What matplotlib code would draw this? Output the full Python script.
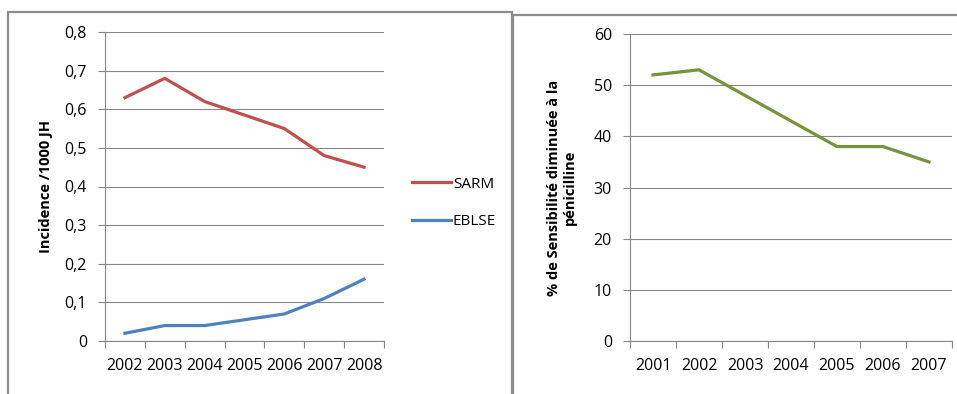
import matplotlib.pyplot as plt
import numpy as np
from matplotlib.patches import Rectangle

plt.rcParams['font.family'] = ['Open Sans', 'DejaVu Sans']

# données
annees_g = ['2002', '2003', '2004', '2005', '2006', '2007', '2008']
sarm = [0.63, 0.68, 0.62, 0.585, 0.55, 0.48, 0.45]
eblse = [0.02, 0.04, 0.04, 0.055, 0.07, 0.11, 0.16]
yticks_g = [0, 0.1, 0.2, 0.3, 0.4, 0.5, 0.6, 0.7, 0.8]

annees_d = ['2001', '2002', '2003', '2004', '2005', '2006', '2007']
penicilline = [52, 53, 48, 43, 38, 38, 35]
yticks_d = [0, 10, 20, 30, 40, 50, 60]

gris = '#868686'
fig = plt.figure(figsize=(9.57, 3.94), dpi=100)

# cadres des deux graphiques
fig.patches.append(Rectangle((8 / 957, -0.05), 504 / 957, 1.05 - 12 / 394, transform=fig.transFigure,
                             fill=False, edgecolor='#8c8c8c', linewidth=1.6))
fig.patches.append(Rectangle((513 / 957, -0.05), 0.5, 1.05 - 15 / 394, transform=fig.transFigure,
                             fill=False, edgecolor='#8c8c8c', linewidth=1.6))


def style_axe(ax, labels, yticks, fmt, xfs):
    n = len(labels)
    ax.set_xlim(0, n)
    ax.set_xticks(np.arange(n + 1))
    ax.set_xticklabels([])
    ax.set_xticks(np.arange(n) + 0.5, minor=True)
    ax.set_xticklabels(labels, minor=True, fontsize=xfs)
    ax.tick_params(axis='x', which='major', length=5, color=gris, direction='out')
    ax.tick_params(axis='x', which='minor', length=0, pad=12)
    ax.set_yticks(yticks)
    ax.set_yticklabels([fmt(v) for v in yticks], fontsize=11.5)
    ax.set_ylim(yticks[0], yticks[-1])
    ax.tick_params(axis='y', length=5, color=gris, pad=8)
    ax.yaxis.grid(True, color=gris, linewidth=0.8)
    ax.set_axisbelow(True)
    for s in ['top', 'right']:
        ax.spines[s].set_visible(False)
    for s in ['left', 'bottom']:
        ax.spines[s].set_color(gris)
        ax.spines[s].set_linewidth(0.8)


# graphique de gauche
ax1 = fig.add_axes([105 / 957, 1 - 341 / 394, 279 / 957, 309 / 394])
x1 = np.arange(len(annees_g)) + 0.5
ax1.plot(x1, sarm, color='#C0504D', linewidth=2.3, label='SARM')
ax1.plot(x1, eblse, color='#4F81BD', linewidth=2.3, label='EBLSE')
style_axe(ax1, annees_g, yticks_g, lambda v: ('%g' % v).replace('.', ','), 11.5)
ax1.set_ylabel('Incidence /1000 JH', fontsize=10.5, fontweight='bold', labelpad=8)
ax1.legend(loc='center left', bbox_to_anchor=(1.05, 0.447), frameon=False, fontsize=11,
           handlelength=2.6, handletextpad=0.1, labelspacing=1.45)

# graphique de droite
ax2 = fig.add_axes([630 / 957, 1 - 341 / 394, 322 / 957, 307 / 394])
x2 = np.arange(len(annees_d)) + 0.5
ax2.plot(x2, penicilline, color='#77933C', linewidth=2.3)
style_axe(ax2, annees_d, yticks_d, lambda v: '%d' % v, 11.5)
ax2.set_ylabel('% de Sensibilité diminuée à la\npénicilline', fontsize=10.5, fontweight='bold',
               labelpad=12)

fig.savefig('out.png', dpi=100)
